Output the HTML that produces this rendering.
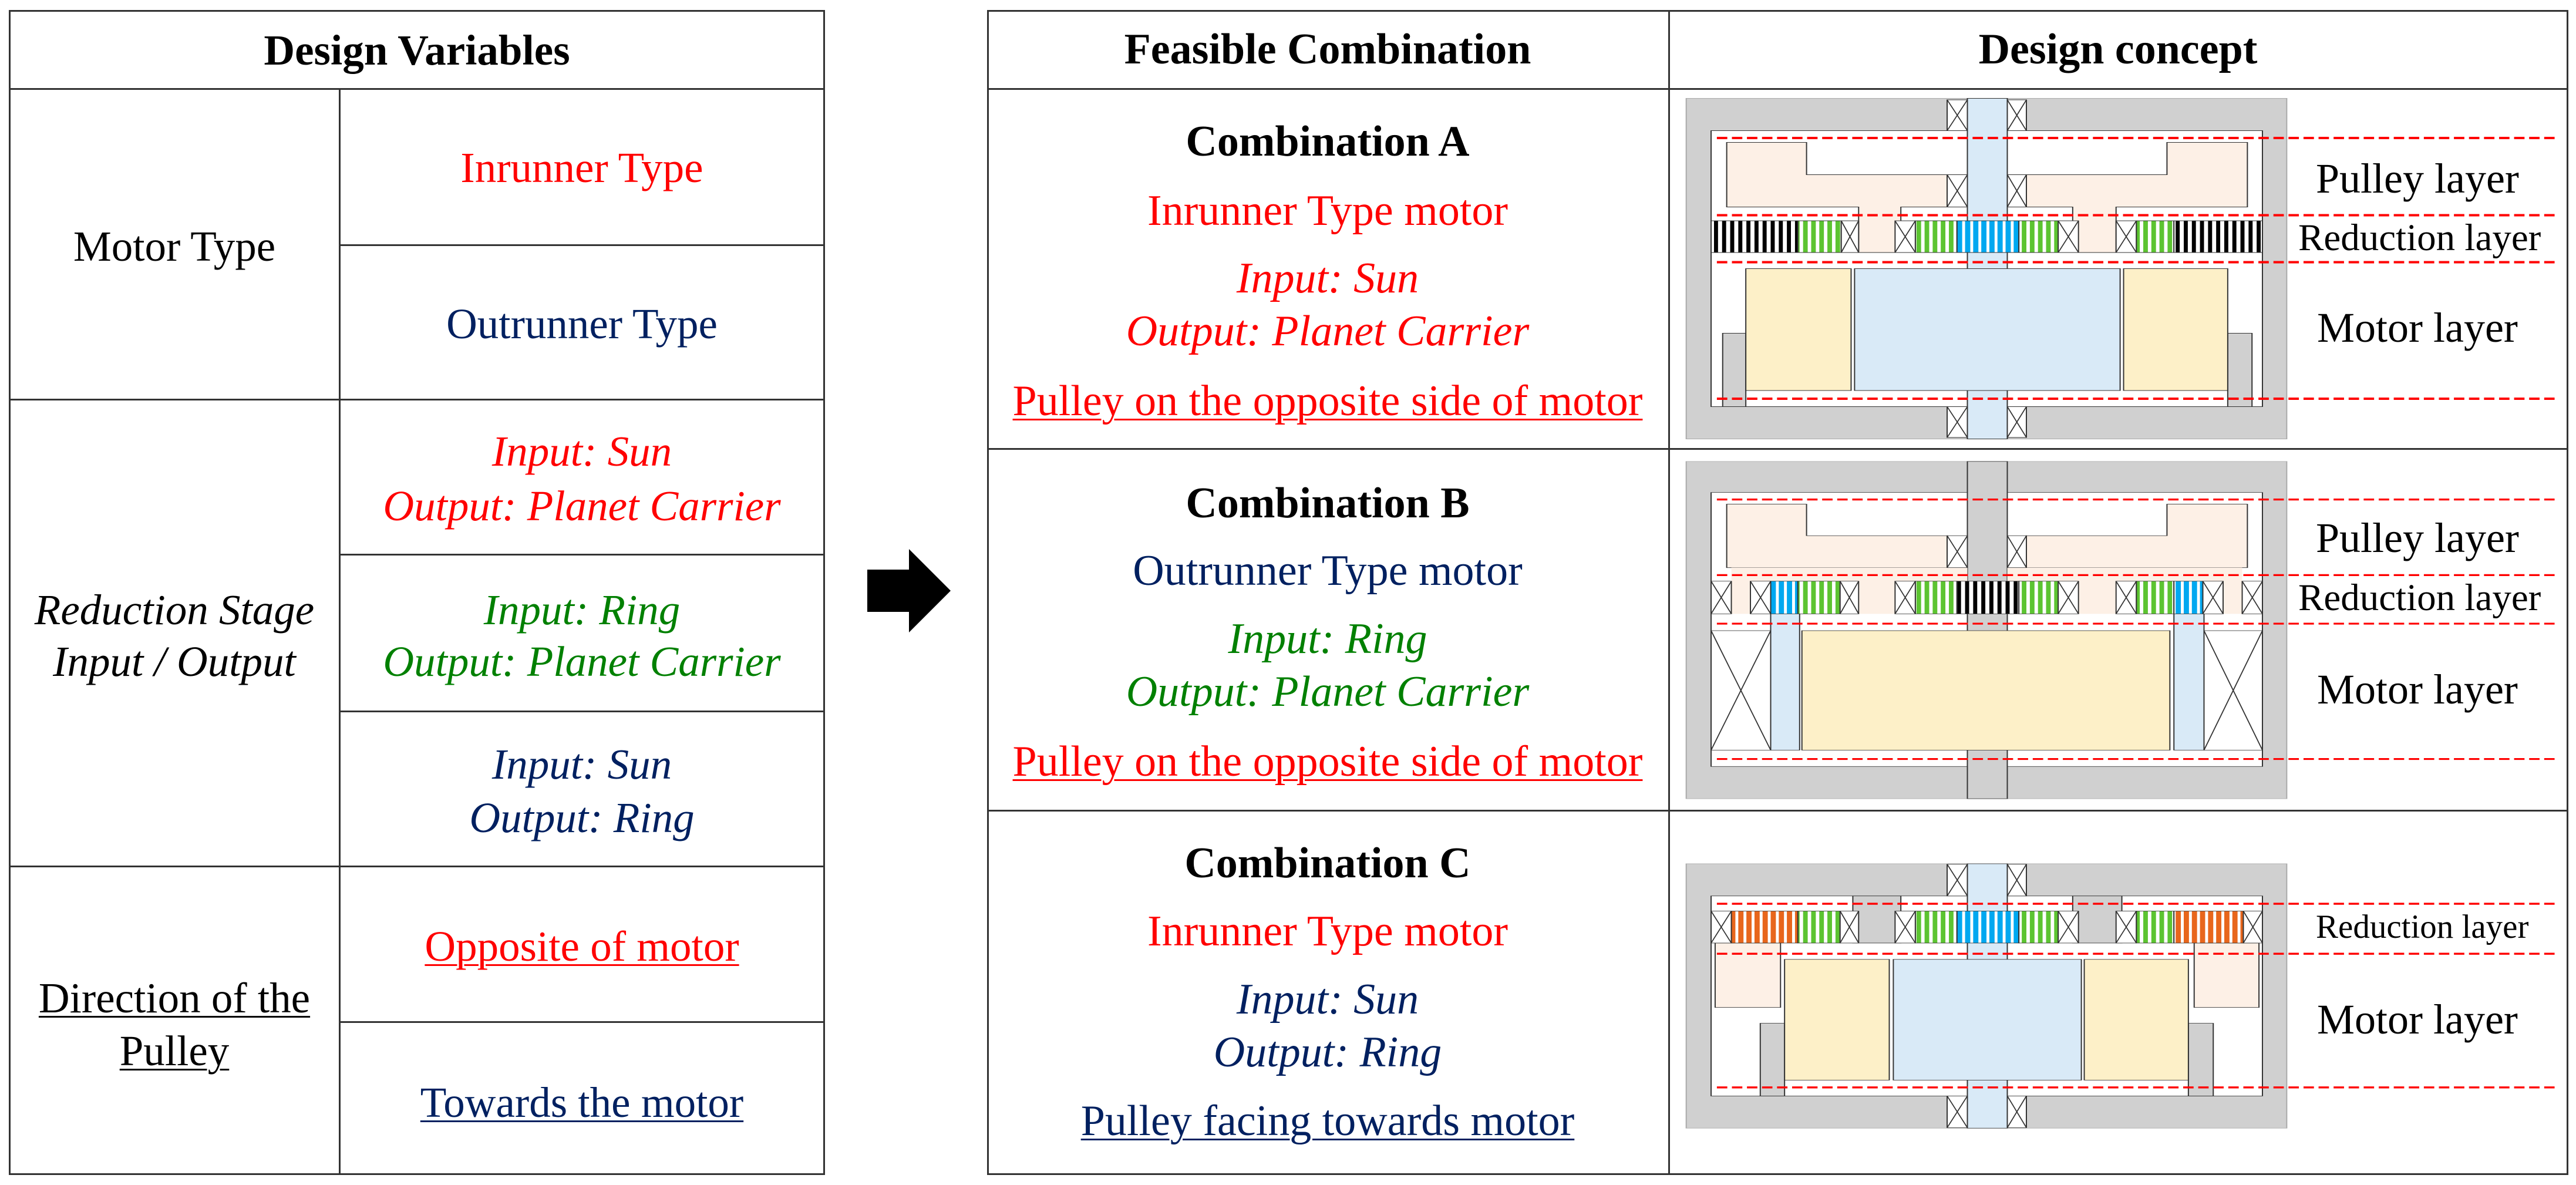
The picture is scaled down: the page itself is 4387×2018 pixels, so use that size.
<!DOCTYPE html>
<html><head><meta charset="utf-8">
<style>
html,body{margin:0;padding:0;background:#fff}
body{width:4387px;height:2018px;position:relative;overflow:hidden;font-family:"Liberation Serif",serif}
.b{position:absolute;border:3px solid #333;box-sizing:border-box}
.h{position:absolute;height:3px;background:#333}
.v{position:absolute;width:3px;background:#333}
.t{position:absolute;white-space:nowrap;line-height:1;transform:translateX(-50%)}
.l{position:absolute;white-space:nowrap;line-height:1}
.s73{font-size:73px}.s74{font-size:74px}
.bo{font-weight:bold}.it{font-style:italic}.u{text-decoration:underline;text-decoration-thickness:3px;text-underline-offset:6px}
.red{color:#f00}.nv{color:#002060}.gr{color:#008000}
svg{position:absolute}
</style></head><body>
<!-- left table -->
<div class="b" style="left:15px;top:17px;width:1390px;height:1984px"></div>
<div class="h" style="left:15px;top:150px;width:1390px"></div>
<div class="v" style="left:577px;top:150px;height:1850px"></div>
<div class="h" style="left:15px;top:679px;width:1390px"></div>
<div class="h" style="left:15px;top:1474px;width:1390px"></div>
<div class="h" style="left:577px;top:416px;width:828px"></div>
<div class="h" style="left:577px;top:943px;width:828px"></div>
<div class="h" style="left:577px;top:1210px;width:828px"></div>
<div class="h" style="left:577px;top:1739px;width:828px"></div>

<div class="t s73 bo" style="left:710px;top:49px">Design Variables</div>
<div class="t s73" style="left:297px;top:383px">Motor Type</div>
<div class="t s73 red" style="left:991px;top:249px">Inrunner Type</div>
<div class="t s73 nv" style="left:991px;top:515px">Outrunner Type</div>
<div class="t s73 red it" style="left:991px;top:732px">Input: Sun</div>
<div class="t s73 red it" style="left:991px;top:825px">Output: Planet Carrier</div>
<div class="t s73 it" style="left:297px;top:1002px">Reduction Stage</div>
<div class="t s73 it" style="left:297px;top:1090px">Input / Output</div>
<div class="t s73 gr it" style="left:991px;top:1002px">Input: Ring</div>
<div class="t s73 gr it" style="left:991px;top:1090px">Output: Planet Carrier</div>
<div class="t s73 nv it" style="left:991px;top:1265px">Input: Sun</div>
<div class="t s73 nv it" style="left:991px;top:1356px">Output: Ring</div>
<div class="t s73 red u" style="left:991px;top:1575px">Opposite of motor</div>
<div class="t s73 u" style="left:297px;top:1663px">Direction of the</div>
<div class="t s73 u" style="left:297px;top:1753px">Pulley</div>
<div class="t s73 nv u" style="left:991px;top:1841px">Towards the motor</div>

<!-- arrow -->
<svg style="left:0;top:0" width="4387" height="2018"><polygon points="1477,970 1548,970 1548,935 1619,1006 1548,1077 1548,1042 1477,1042" fill="#000"/></svg>

<!-- right table -->
<div class="b" style="left:1681px;top:17px;width:2693px;height:1984px"></div>
<div class="h" style="left:1681px;top:150px;width:2693px"></div>
<div class="h" style="left:1681px;top:763px;width:2693px"></div>
<div class="h" style="left:1681px;top:1379px;width:2693px"></div>
<div class="v" style="left:2841px;top:17px;height:1984px"></div>

<div class="t s74 bo" style="left:2261px;top:47px">Feasible Combination</div>
<div class="t s74 bo" style="left:3607px;top:47px">Design concept</div>
<div class="t s74 bo" style="left:2261px;top:204px">Combination A</div>
<div class="t s74 red" style="left:2261px;top:322px">Inrunner Type motor</div>
<div class="t s74 red it" style="left:2261px;top:437px">Input: Sun</div>
<div class="t s74 red it" style="left:2261px;top:527px">Output: Planet Carrier</div>
<div class="t s74 red u" style="left:2261px;top:646px">Pulley on the opposite side of motor</div>
<div class="t s74 bo" style="left:2261px;top:820px">Combination B</div>
<div class="t s74 nv" style="left:2261px;top:935px">Outrunner Type motor</div>
<div class="t s74 gr it" style="left:2261px;top:1051px">Input: Ring</div>
<div class="t s74 gr it" style="left:2261px;top:1141px">Output: Planet Carrier</div>
<div class="t s74 red u" style="left:2261px;top:1260px">Pulley on the opposite side of motor</div>
<div class="t s74 bo" style="left:2261px;top:1433px">Combination C</div>
<div class="t s74 red" style="left:2261px;top:1549px">Inrunner Type motor</div>
<div class="t s74 nv it" style="left:2261px;top:1665px">Input: Sun</div>
<div class="t s74 nv it" style="left:2261px;top:1755px">Output: Ring</div>
<div class="t s74 nv u" style="left:2261px;top:1872px">Pulley facing towards motor</div>

<svg width="0" height="0" style="left:0;top:0"><defs>
<pattern id="pk" patternUnits="userSpaceOnUse" width="14" height="10"><rect width="14" height="10" fill="#fff"/><rect width="7" height="10" fill="#000"/></pattern>
<pattern id="pg" patternUnits="userSpaceOnUse" width="14" height="10"><rect width="14" height="10" fill="#fff"/><rect width="8" height="10" fill="#5cc431"/></pattern>
<pattern id="pb" patternUnits="userSpaceOnUse" width="14" height="10"><rect width="14" height="10" fill="#fff"/><rect width="9" height="10" fill="#00a8f0"/></pattern>
<pattern id="po" patternUnits="userSpaceOnUse" width="14" height="10"><rect width="14" height="10" fill="#fff"/><rect width="9" height="10" fill="#e8661c"/></pattern>
</defs></svg>

<!-- Diagram A -->
<svg style="left:2850px;top:0" width="1537" height="780" viewBox="0 0 1560 1560" preserveAspectRatio="none">
<g stroke="#333" stroke-width="2" vector-effect="non-scaling-stroke">
<rect x="22" y="335" width="1038" height="1160" fill="#d0d0d0" stroke="#aaa"/>
<rect x="65" y="445" width="953" height="940" fill="#fff"/>
<rect x="85" y="1135" width="40" height="250" fill="#d0d0d0"/>
<rect x="958" y="1135" width="42" height="250" fill="#d0d0d0"/>
<rect x="508" y="335" width="69" height="1160" fill="#d9eaf7"/>
<path d="M92 485H230V595H473V705H393V860H320V705H92Z" fill="#fdf0e6"/>
<path d="M992 485H853V595H610V705H690V860H765V705H992Z" fill="#fdf0e6"/>
<rect x="65" y="752" width="150" height="108" fill="url(#pk)"/>
<rect x="215" y="752" width="75" height="108" fill="url(#pg)"/>
<rect x="418" y="752" width="72" height="108" fill="url(#pg)"/>
<rect x="490" y="752" width="107" height="108" fill="url(#pb)"/>
<rect x="597" y="752" width="68" height="108" fill="url(#pg)"/>
<rect x="800" y="752" width="65" height="108" fill="url(#pg)"/>
<rect x="865" y="752" width="153" height="108" fill="url(#pk)"/>
<rect x="125" y="915" width="182" height="415" fill="#fdf0c8"/>
<rect x="778" y="915" width="180" height="415" fill="#fdf0c8"/>
<rect x="313" y="915" width="459" height="415" fill="#d9eaf7"/>
</g>
<g stroke="#333" stroke-width="2" fill="#fff" vector-effect="non-scaling-stroke">
<rect x="473" y="340" width="35" height="105"/><path d="M473 340L508 445M508 340L473 445"/>
<rect x="577" y="340" width="33" height="105"/><path d="M577 340L610 445M610 340L577 445"/>
<rect x="473" y="1385" width="35" height="105"/><path d="M473 1385L508 1490M508 1385L473 1490"/>
<rect x="577" y="1385" width="33" height="105"/><path d="M577 1385L610 1490M610 1385L577 1490"/>
<rect x="473" y="595" width="35" height="110"/><path d="M473 595L508 705M508 595L473 705"/>
<rect x="577" y="595" width="33" height="110"/><path d="M577 595L610 705M610 595L577 705"/>
<rect x="290" y="752" width="30" height="108"/><path d="M290 752L320 860M320 752L290 860"/>
<rect x="383" y="752" width="35" height="108"/><path d="M383 752L418 860M418 752L383 860"/>
<rect x="665" y="752" width="35" height="108"/><path d="M665 752L700 860M700 752L665 860"/>
<rect x="765" y="752" width="35" height="108"/><path d="M765 752L800 860M800 752L765 860"/>
</g>
<g stroke="#f00" stroke-width="8" stroke-dasharray="18 8" fill="none">
<path d="M75 470H1530M75 733H1530M75 893H1530M75 1358H1530"/>
</g>
</svg>
<div class="l" style="left:3944px;top:268px;font-size:72px">Pulley layer</div>
<div class="l" style="left:3914px;top:373px;font-size:65px">Reduction layer</div>
<div class="l" style="left:3946px;top:522px;font-size:72px">Motor layer</div>

<!-- Diagram B -->
<svg style="left:2850px;top:760px" width="1537" height="620" viewBox="0 0 1560 1560" preserveAspectRatio="none">
<g stroke="#333" stroke-width="2" vector-effect="non-scaling-stroke">
<rect x="22" y="65" width="1038" height="1445" fill="#d0d0d0" stroke="#aaa"/>
<rect x="65" y="198" width="953" height="1174" fill="#fff"/>
<rect x="508" y="65" width="69" height="1445" fill="#d0d0d0"/>
<path d="M92 248H230V383H473V520H92Z" fill="#fdf0e6"/>
<path d="M992 248H853V383H610V520H992Z" fill="#fdf0e6"/>
<rect x="100" y="520" width="408" height="198" fill="#fdf0e6" stroke="none"/>
<rect x="577" y="520" width="406" height="198" fill="#fdf0e6" stroke="none"/>
<rect x="168" y="578" width="47" height="140" fill="url(#pb)"/>
<rect x="215" y="578" width="73" height="140" fill="url(#pg)"/>
<rect x="418" y="578" width="72" height="140" fill="url(#pg)"/>
<rect x="490" y="578" width="107" height="140" fill="url(#pk)"/>
<rect x="597" y="578" width="68" height="140" fill="url(#pg)"/>
<rect x="800" y="578" width="65" height="140" fill="url(#pg)"/>
<rect x="865" y="578" width="50" height="140" fill="url(#pb)"/>
<rect x="168" y="718" width="50" height="584" fill="#d9eaf7"/>
<rect x="865" y="718" width="52" height="584" fill="#d9eaf7"/>
<rect x="222" y="790" width="636" height="512" fill="#fdf0c8"/>
</g>
<g stroke="#333" stroke-width="2" fill="#fff" vector-effect="non-scaling-stroke">
<rect x="473" y="383" width="35" height="137"/><path d="M473 383L508 520M508 383L473 520"/>
<rect x="577" y="383" width="33" height="137"/><path d="M577 383L610 520M610 383L577 520"/>
<rect x="65" y="578" width="35" height="140"/><path d="M65 578L100 718M100 578L65 718"/>
<rect x="133" y="578" width="35" height="140"/><path d="M133 578L168 718M168 578L133 718"/>
<rect x="288" y="578" width="32" height="140"/><path d="M288 578L320 718M320 578L288 718"/>
<rect x="383" y="578" width="35" height="140"/><path d="M383 578L418 718M418 578L383 718"/>
<rect x="665" y="578" width="35" height="140"/><path d="M665 578L700 718M700 578L665 718"/>
<rect x="765" y="578" width="35" height="140"/><path d="M765 578L800 718M800 578L765 718"/>
<rect x="915" y="578" width="35" height="140"/><path d="M915 578L950 718M950 578L915 718"/>
<rect x="983" y="578" width="35" height="140"/><path d="M983 578L1018 718M1018 578L983 718"/>
<rect x="65" y="790" width="103" height="512"/><path d="M65 790L168 1302M168 790L65 1302"/>
<rect x="917" y="790" width="101" height="512"/><path d="M917 790L1018 1302M1018 790L917 1302"/>
</g>
<g stroke="#f00" stroke-width="8" stroke-dasharray="18 8" fill="none">
<path d="M75 228H1530M75 552H1530M75 760H1530M75 1340H1530"/>
</g>
</svg>
<div class="l" style="left:3944px;top:880px;font-size:72px">Pulley layer</div>
<div class="l" style="left:3914px;top:986px;font-size:65px">Reduction layer</div>
<div class="l" style="left:3946px;top:1138px;font-size:72px">Motor layer</div>

<!-- Diagram C -->
<svg style="left:2850px;top:1370px" width="1537" height="648" viewBox="0 0 1560 1560" preserveAspectRatio="none">
<g stroke="#333" stroke-width="2" vector-effect="non-scaling-stroke">
<rect x="22" y="243" width="1038" height="1084" fill="#d0d0d0" stroke="#aaa"/>
<rect x="65" y="375" width="953" height="820" fill="#fff"/>
<rect x="310" y="375" width="83" height="193" fill="#d0d0d0"/>
<rect x="690" y="375" width="85" height="193" fill="#d0d0d0"/>
<rect x="72" y="568" width="113" height="264" fill="#fdf0e6"/>
<rect x="900" y="568" width="112" height="264" fill="#fdf0e6"/>
<rect x="150" y="897" width="42" height="298" fill="#d0d0d0"/>
<rect x="890" y="897" width="43" height="298" fill="#d0d0d0"/>
<rect x="508" y="243" width="69" height="1084" fill="#d9eaf7"/>
<rect x="100" y="437" width="115" height="131" fill="url(#po)"/>
<rect x="215" y="437" width="73" height="131" fill="url(#pg)"/>
<rect x="418" y="437" width="72" height="131" fill="url(#pg)"/>
<rect x="490" y="437" width="107" height="131" fill="url(#pb)"/>
<rect x="597" y="437" width="68" height="131" fill="url(#pg)"/>
<rect x="800" y="437" width="65" height="131" fill="url(#pg)"/>
<rect x="865" y="437" width="120" height="131" fill="url(#po)"/>
<rect x="192" y="635" width="181" height="495" fill="#fdf0c8"/>
<rect x="380" y="635" width="325" height="495" fill="#d9eaf7"/>
<rect x="710" y="635" width="180" height="495" fill="#fdf0c8"/>
</g>
<g stroke="#333" stroke-width="2" fill="#fff" vector-effect="non-scaling-stroke">
<rect x="473" y="245" width="35" height="130"/><path d="M473 245L508 375M508 245L473 375"/>
<rect x="577" y="245" width="33" height="130"/><path d="M577 245L610 375M610 245L577 375"/>
<rect x="473" y="1195" width="35" height="130"/><path d="M473 1195L508 1325M508 1195L473 1325"/>
<rect x="577" y="1195" width="33" height="130"/><path d="M577 1195L610 1325M610 1195L577 1325"/>
<rect x="65" y="437" width="35" height="131"/><path d="M65 437L100 568M100 437L65 568"/>
<rect x="288" y="437" width="32" height="131"/><path d="M288 437L320 568M320 437L288 568"/>
<rect x="383" y="437" width="35" height="131"/><path d="M383 437L418 568M418 437L383 568"/>
<rect x="665" y="437" width="35" height="131"/><path d="M665 437L700 568M700 437L665 568"/>
<rect x="765" y="437" width="35" height="131"/><path d="M765 437L800 568M800 437L765 568"/>
<rect x="985" y="437" width="33" height="131"/><path d="M985 437L1018 568M1018 437L985 568"/>
</g>
<g stroke="#f00" stroke-width="8" stroke-dasharray="18 8" fill="none">
<path d="M75 407H1530M75 612H1530M75 1160H1530"/>
</g>
</svg>
<div class="l" style="left:3944px;top:1550px;font-size:57px">Reduction layer</div>
<div class="l" style="left:3946px;top:1700px;font-size:72px">Motor layer</div>
</body></html>
